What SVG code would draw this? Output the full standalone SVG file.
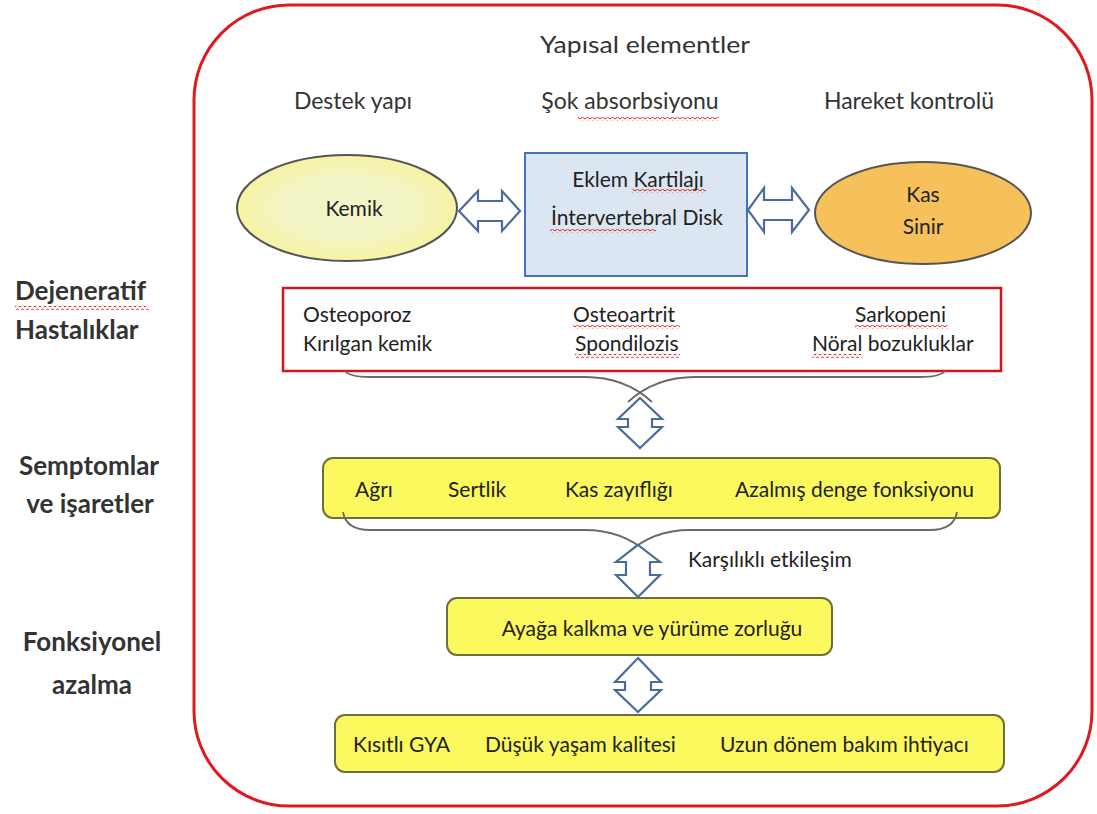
<svg xmlns="http://www.w3.org/2000/svg" width="1097" height="814" viewBox="0 0 1097 814">
<defs>
<style>
.t{font-family:Lato,"Liberation Sans",sans-serif;fill:#222;font-size:21px;}
.h{font-family:Lato,"Liberation Sans",sans-serif;fill:#333;font-size:23px;}
.b{font-family:Lato,"Liberation Sans",sans-serif;fill:#333;font-size:26px;font-weight:bold;}
.ybox{fill:#fbf95e;stroke:#6e6e3c;stroke-width:2;}
.arr{fill:#fff;stroke:#4a6c9b;stroke-width:2.2;stroke-linejoin:miter;}
.brace{fill:none;stroke:#6a6a6a;stroke-width:1.8;}
</style>
<pattern id="wave" width="5" height="4" patternUnits="userSpaceOnUse">
<path d="M0 3 L2.5 1 L5 3" fill="none" stroke="#e0201c" stroke-width="1"/>
</pattern>
<radialGradient id="kemikG" cx="0.5" cy="0.5" r="0.5">
<stop offset="0" stop-color="#f4f5c8"/>
<stop offset="0.6" stop-color="#f3f4c4"/>
<stop offset="1" stop-color="#f7f3a4"/>
</radialGradient>
</defs>
<rect width="1097" height="814" fill="#fff"/>

<g id="frame">
<rect x="194" y="5" width="898" height="801" rx="95" ry="95" fill="none" stroke="#e0191e" stroke-width="3"/>
</g>

<g id="headers">
<text class="h" x="540" y="53" font-size="25" textLength="210" lengthAdjust="spacingAndGlyphs">Yapısal elementler</text>
<text class="h" x="353" y="109" text-anchor="middle">Destek yapı</text>
<text class="h" x="630" y="109" text-anchor="middle">Şok absorbsiyonu</text>
<text class="h" x="909" y="109" text-anchor="middle">Hareket kontrolü</text>
<rect x="578" y="117" width="141" height="4" fill="url(#wave)"/>
</g>

<g id="side-labels">
<text class="b" x="15" y="300">Dejeneratif</text>
<rect x="15" y="306" width="134" height="4" fill="url(#wave)"/>
<text class="b" x="15" y="339">Hastalıklar</text>
<text class="b" x="89" y="475" text-anchor="middle">Semptomlar</text>
<text class="b" x="90" y="513" text-anchor="middle">ve işaretler</text>
<text class="b" x="92" y="651" text-anchor="middle">Fonksiyonel</text>
<text class="b" x="92" y="694" text-anchor="middle">azalma</text>
</g>

<g id="kemik">
<ellipse cx="347" cy="208" rx="110" ry="53" fill="url(#kemikG)" stroke="#555" stroke-width="2"/>
<text class="t" x="354" y="216" text-anchor="middle">Kemik</text>
</g>

<g id="kartilaj">
<rect x="525" y="153" width="222" height="123" fill="#dce6f2" stroke="#4472c4" stroke-width="2"/>
<text class="t" x="638" y="187" text-anchor="middle">Eklem Kartilajı</text>
<text class="t" x="637" y="225" text-anchor="middle">İntervertebral Disk</text>
<rect x="632" y="189" width="74" height="4" fill="url(#wave)"/>
<rect x="550" y="229" width="106" height="4" fill="url(#wave)"/>
</g>

<g id="kas">
<ellipse cx="923" cy="213" rx="108" ry="51" fill="#f6c15a" stroke="#555" stroke-width="2"/>
<text class="t" x="923" y="202" text-anchor="middle">Kas</text>
<text class="t" x="923" y="234" text-anchor="middle">Sinir</text>
</g>

<g id="hastaliklar">
<rect x="283" y="288" width="718" height="83" fill="#fff" stroke="#d4131b" stroke-width="2.5"/>
<text class="t" x="303" y="322">Osteoporoz</text>
<text class="t" x="303" y="351">Kırılgan kemik</text>
<text class="t" x="573" y="322">Osteoartrit</text>
<text class="t" x="575" y="351">Spondilozis</text>
<text class="t" x="855" y="322">Sarkopeni</text>
<text class="t" x="812" y="351">Nöral bozukluklar</text>
<rect x="573" y="325" width="107" height="4" fill="url(#wave)"/>
<rect x="575" y="354" width="105" height="4" fill="url(#wave)"/>
<rect x="855" y="325" width="93" height="4" fill="url(#wave)"/>
<rect x="812" y="354" width="50" height="4" fill="url(#wave)"/>
</g>

<g id="semptomlar">
<rect class="ybox" x="323" y="458" width="677" height="60" rx="10" ry="10"/>
<text class="t" x="355" y="497">Ağrı</text>
<text class="t" x="448" y="497">Sertlik</text>
<text class="t" x="565" y="497">Kas zayıflığı</text>
<text class="t" x="735" y="497">Azalmış denge fonksiyonu</text>
</g>

<g id="fonksiyonel">
<rect class="ybox" x="447" y="598" width="385" height="57" rx="10" ry="10"/>
<text class="t" x="652" y="636" text-anchor="middle">Ayağa kalkma ve yürüme zorluğu</text>
</g>

<g id="sonuclar">
<rect class="ybox" x="335" y="715" width="669" height="57" rx="10" ry="10"/>
<text class="t" x="353" y="752">Kısıtlı GYA</text>
<text class="t" x="485" y="752">Düşük yaşam kalitesi</text>
<text class="t" x="720" y="752">Uzun dönem bakım ihtiyacı</text>
</g>

<g id="connectors">
<path class="arr" d="M459 211 L478 191 L478 201 L502 201 L502 191 L520 211 L502 231 L502 221 L478 221 L478 231 Z"/>
<path class="arr" d="M748 210 L764 188 L764 200 L792 200 L792 188 L809 210 L792 232 L792 220 L764 220 L764 232 Z"/>
<path class="brace" d="M345 371 Q350 377 370 377 L585 377 Q625 377 652 402"/>
<path class="brace" d="M945 371 Q940 377 920 377 L695 377 Q655 377 628 402"/>
<path class="arr" d="M640 398 L662 419 L652 419 L652 427 L662 427 L640 448 L618 427 L628 427 L628 419 L618 419 Z"/>
<path class="brace" d="M343 512 Q346 530 370 530 L585 530 Q622 530 648 553"/>
<path class="brace" d="M957 512 Q954 530 930 530 L690 530 Q653 530 628 553"/>
<path class="arr" d="M638 545 L660 562 L650 562 L650 575 L660 575 L638 597 L616 575 L626 575 L626 562 L616 562 Z"/>
<text class="t" x="688" y="567">Karşılıklı etkileşim</text>
<path class="arr" d="M638 658 L661 682 L651 682 L651 690 L661 690 L638 712 L615 690 L625 690 L625 682 L615 682 Z"/>
</g>
</svg>
